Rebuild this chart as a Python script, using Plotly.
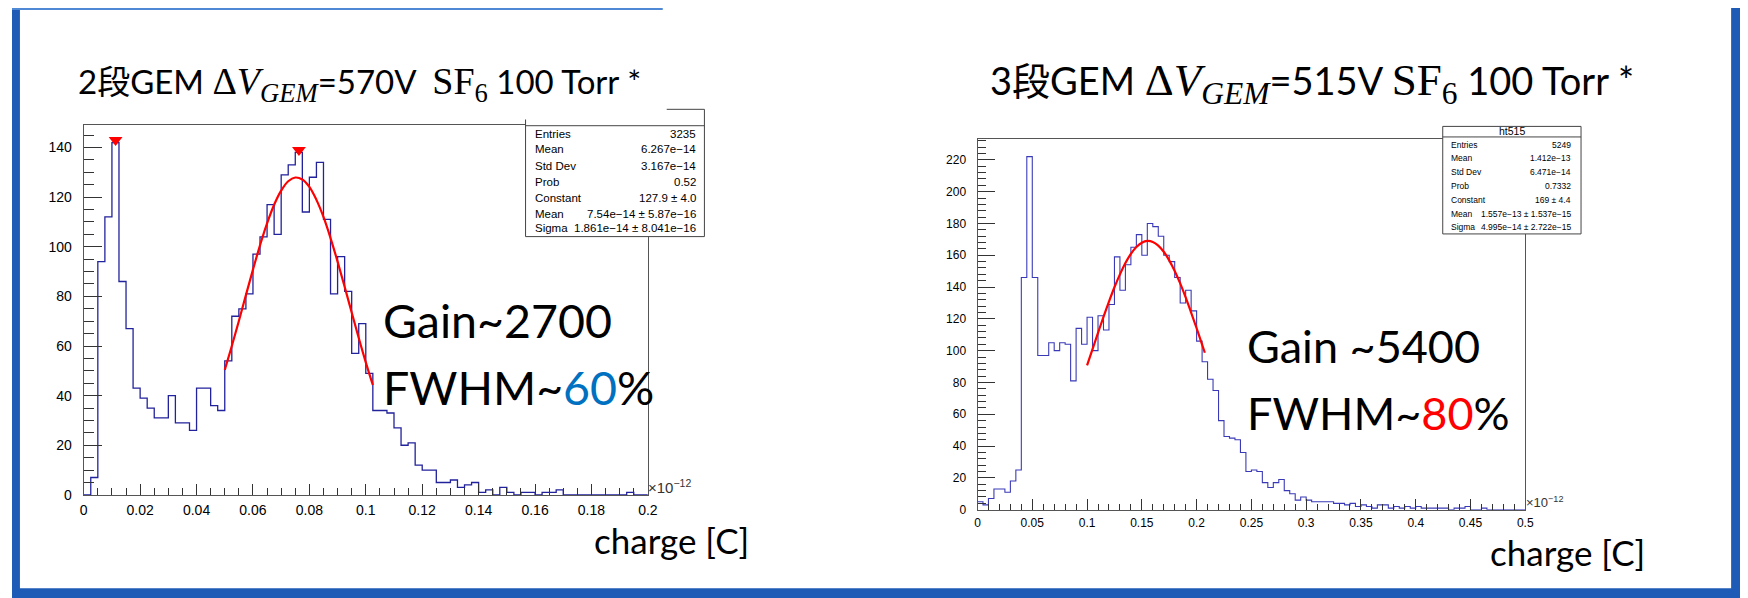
import numpy as np
import plotly.graph_objects as go

W, H = 1748, 598

# ---------------- data ----------------
# Left: 2-stage GEM, 80 bins over [0, 0.2] (x1e-12 C)
left_range = [0.0, 0.2]
left_counts = [0, 7, 94, 112, 142, 86, 67, 43, 39, 35,
               31, 31, 40, 29, 29, 26, 43, 43, 36, 34,
               54, 72, 75, 81, 97, 104, 117, 105, 129, 133,
               138, 114, 128, 134, 111, 81, 96, 82, 57, 69,
               49, 34, 34, 33, 27, 20, 21, 12, 10, 10,
               5, 5, 6, 3, 4, 5, 1, 2, 0, 3,
               1, 0, 1, 1, 0, 1, 1, 2, 0, 0,
               0, 0, 0, 0, 0, 0, 0, 1, 0, 0]
left_fit_x = [0.05, 0.0525, 0.055, 0.0575, 0.06, 0.0625, 0.065, 0.0675, 0.07, 0.0725,
              0.075, 0.0775, 0.08, 0.0825, 0.085, 0.0875, 0.09, 0.0925, 0.095, 0.0975,
              0.1, 0.1025]
left_fit_y = [50.4, 60.0, 70.1, 80.5, 90.8, 100.6, 109.4, 116.9, 122.6, 126.4,
              127.9, 127.1, 124.1, 118.9, 112.0, 103.5, 94.0, 83.9, 73.5, 63.2,
              53.4, 44.3]
left_peak_x = [0.0113, 0.0763]
left_peak_y = [143, 139]
left_xtick_vals = [0, 0.02, 0.04, 0.06, 0.08, 0.1, 0.12, 0.14, 0.16, 0.18, 0.2]
left_xtick_text = ["0", "0.02", "0.04", "0.06", "0.08", "0.1", "0.12", "0.14", "0.16", "0.18", "0.2"]
left_ytick_vals = [0, 20, 40, 60, 80, 100, 120, 140]
left_stats_labels = ["Entries", "Mean", "Std Dev", "Prob", "Constant", "Mean", "Sigma"]
left_stats_values = ["3235", "6.267e\u221214", "3.167e\u221214", "0.52", "127.9 \u00b1 4.0",
                     "7.54e\u221214 \u00b1 5.87e\u221216", "1.861e\u221214 \u00b1 8.041e\u221216"]

# Right: 3-stage GEM, 100 bins over [0, 0.5] (x1e-12 C)
right_range = [0.0, 0.5]
right_counts = [5, 3, 7, 13, 13, 11, 18, 25, 146, 222,
                146, 97, 97, 105, 100, 105, 104, 81, 114, 104,
                121, 100, 122, 113, 129, 159, 138, 154, 165, 173,
                160, 180, 178, 172, 160, 156, 146, 130, 138, 125,
                106, 93, 82, 75, 56, 46, 45, 44, 36, 24,
                25, 24, 17, 14, 17, 19, 12, 10, 6, 8,
                6, 5, 5, 5, 5, 4, 4, 3, 4, 2,
                3, 2, 1, 3, 3, 1, 2, 1, 2, 1,
                2, 1, 1, 1, 1, 1, 0, 1, 1, 2,
                0, 0, 1, 0, 0, 0, 0, 0, 0, 0]
right_fit_x = [0.1, 0.105, 0.11, 0.115, 0.12, 0.125, 0.13, 0.135, 0.14, 0.145,
               0.15, 0.155, 0.16, 0.165, 0.17, 0.175, 0.18, 0.185, 0.19, 0.195,
               0.2, 0.205, 0.2075]
right_fit_y = [90.8, 101.0, 111.2, 121.3, 130.9, 139.9, 148.0, 155.1, 160.9, 165.2,
               167.9, 169.0, 168.4, 166.1, 162.2, 156.8, 150.1, 142.3, 133.5, 124.0,
               114.1, 103.8, 98.7]
right_xtick_vals = [0, 0.05, 0.1, 0.15, 0.2, 0.25, 0.3, 0.35, 0.4, 0.45, 0.5]
right_xtick_text = ["0", "0.05", "0.1", "0.15", "0.2", "0.25", "0.3", "0.35", "0.4", "0.45", "0.5"]
right_ytick_vals = [0, 20, 40, 60, 80, 100, 120, 140, 160, 180, 200, 220]
right_stats_labels = ["Entries", "Mean", "Std Dev", "Prob", "Constant", "Mean", "Sigma"]
right_stats_values = ["5249", "1.412e\u221213", "6.471e\u221214", "0.7332", "169 \u00b1 4.4",
                      "1.557e\u221213 \u00b1 1.537e\u221215", "4.995e\u221214 \u00b1 2.722e\u221215"]

# ---------------- helpers ----------------
HIST_COLOR = "#22229c"
TXT_FONT = "Lato, 'Noto Sans CJK JP', sans-serif"
ROOT_FONT = "'Liberation Sans', Arial, sans-serif"


def step_xy(counts, rng):
    n = len(counts)
    edges = np.linspace(rng[0], rng[1], n + 1)
    xs = list(edges[:-1]) + [edges[-1]]
    ys = list(counts) + [counts[-1]]
    return xs, ys


def pxx(x):
    return x / W


def pxy(y):
    return 1 - y / H


fig = go.Figure()

lx, ly = step_xy(left_counts, left_range)
fig.add_trace(go.Scatter(x=lx, y=ly, mode="lines", line=dict(shape="hv", color=HIST_COLOR, width=1.3),
                         xaxis="x", yaxis="y", showlegend=False, hoverinfo="skip"))
fig.add_trace(go.Scatter(x=left_fit_x, y=left_fit_y, mode="lines",
                         line=dict(shape="spline", color="#ff0000", width=2.2),
                         xaxis="x", yaxis="y", showlegend=False))
fig.add_trace(go.Scatter(x=left_peak_x, y=left_peak_y, mode="markers",
                         marker=dict(symbol="triangle-down", color="#ff0000", size=12),
                         xaxis="x", yaxis="y", showlegend=False, cliponaxis=False))

rx, ry = step_xy(right_counts, right_range)
fig.add_trace(go.Scatter(x=rx, y=ry, mode="lines", line=dict(shape="hv", color="#3a3ab8", width=1.1),
                         xaxis="x2", yaxis="y2", showlegend=False, hoverinfo="skip"))
fig.add_trace(go.Scatter(x=right_fit_x, y=right_fit_y, mode="lines",
                         line=dict(shape="spline", color="#ff0000", width=2.2),
                         xaxis="x2", yaxis="y2", showlegend=False))


def axis_common(size):
    return dict(showline=True, linecolor="#555555", linewidth=1, mirror=True,
                ticks="inside", tickcolor="#333333", showgrid=False, zeroline=False,
                tickfont=dict(family=ROOT_FONT, size=size, color="black"))


fig.update_layout(
    xaxis=dict(domain=[pxx(72.3), pxx(641)], range=left_range, anchor="y",
               tickvals=left_xtick_vals, ticktext=left_xtick_text, ticklen=11, ticklabelstandoff=2,
               minor=dict(dtick=0.005, tick0=0, ticklen=7, ticks="inside", tickcolor="#333333"),
               **axis_common(14)),
    yaxis=dict(domain=[pxy(493.5), pxy(118.5)], range=[0, 149.1], anchor="x",
               tickvals=left_ytick_vals, ticklen=18, ticklabelstandoff=8,
               minor=dict(dtick=5, tick0=0, ticklen=10, ticks="inside", tickcolor="#333333"),
               **axis_common(14)),
    xaxis2=dict(domain=[pxx(973.3), pxx(1525.5)], range=right_range, anchor="y2",
                tickvals=right_xtick_vals, ticktext=right_xtick_text, ticklen=11, ticklabelstandoff=2,
                minor=dict(dtick=0.01, tick0=0, ticklen=6, ticks="inside", tickcolor="#333333"),
                **axis_common(12)),
    yaxis2=dict(domain=[pxy(508.5), pxy(132.8)], range=[0, 233.1], anchor="x2",
                tickvals=right_ytick_vals, ticklen=17, ticklabelstandoff=8,
                minor=dict(dtick=4, tick0=0, ticklen=8, ticks="inside", tickcolor="#333333"),
                **axis_common(12)),
)

shapes = []
annos = []


def ann(text, x, y, size, family=TXT_FONT, color="black", xanchor="left", yanchor="middle"):
    annos.append(dict(text=text, x=pxx(x), y=pxy(y), xref="paper", yref="paper", showarrow=False,
                      xanchor=xanchor, yanchor=yanchor, align=xanchor if xanchor != "center" else "center",
                      font=dict(size=size, family=family, color=color)))


def rect(x0, y0, x1, y1, fill="white", line="#444444", lw=1):
    shapes.append(dict(type="rect", xref="paper", yref="paper", x0=pxx(x0), x1=pxx(x1),
                       y0=pxy(y1), y1=pxy(y0), fillcolor=fill, line=dict(color=line, width=lw),
                       layer="above"))


def hline(x0, x1, y, color="#444444", lw=1):
    shapes.append(dict(type="line", xref="paper", yref="paper", x0=pxx(x0), x1=pxx(x1),
                       y0=pxy(y), y1=pxy(y), line=dict(color=color, width=lw), layer="above"))


def vline(x, y0, y1, color="#444444", lw=1):
    shapes.append(dict(type="line", xref="paper", yref="paper", x0=pxx(x), x1=pxx(x),
                       y0=pxy(y0), y1=pxy(y1), line=dict(color=color, width=lw), layer="above"))


# ---- left stats box ----
rect(517.7, 113, 698, 231.7, line="rgba(0,0,0,0)")
vline(517.7, 113, 231.7)
vline(698, 102.7, 231.7)
hline(517.7, 698, 231.7)
hline(517.7, 698, 119.3)
hline(660, 698, 102.7)
row_y_left = [127.3, 143.3, 160, 176, 192.3, 208.3, 223.3]
for lab, val, yy in zip(left_stats_labels, left_stats_values, row_y_left):
    ann(lab, 525.7, yy, 11.5, family=ROOT_FONT)
    ann(val, 692, yy, 11.5, family=ROOT_FONT, xanchor="right")

# ---- right stats box ----
rect(1442.3, 120, 1581.7, 229)
hline(1442.3, 1581.7, 130.7)
ann("ht515", 1511.7, 124.5, 10.5, family=ROOT_FONT, xanchor="center")
row_y_right = [139, 152.3, 166.7, 180, 194.3, 208.3, 221.7]
for lab, val, yy in zip(right_stats_labels, right_stats_values, row_y_right):
    ann(lab, 1449, yy, 8.5, family=ROOT_FONT)
    ann(val, 1573.5, yy, 8.5, family=ROOT_FONT, xanchor="right")

# ---- axis exponent labels ----
ann("\u00d710<sup>\u221212</sup>", 639, 485, 15, family=ROOT_FONT, color="#333333")
ann("\u00d710<sup>\u221212</sup>", 1524, 501, 13, family=ROOT_FONT, color="#333333")

# ---- slide titles ----
def title_html(prefix, volt, gap, math_size):
    ms = "font-family:Liberation Serif;font-size:%dpx" % math_size
    return ("%s段GEM <span style='%s'>\u0394<i>V</i><sub><i>GEM</i></sub></span>=%s%s"
            "<span style='%s'>SF<sub>6</sub></span> 100 Torr *") % (prefix, ms, volt, gap, ms)


ann(title_html("2", "570V", "&nbsp;&nbsp;", 38), 65, 77, 33)
ann(title_html("3", "515V", " ", 45), 984, 76, 38)

# ---- big labels ----
ann("Gain~2700", 372, 316, 46.5)
ann("FWHM~<span style='color:#0070C0;font-size:46.5px'>60</span>%", 372, 384, 46.5)
ann("Gain ~5400", 1243, 343, 45)
ann("FWHM~<span style='color:#FF0000;font-size:45px'>80</span>%", 1243, 410, 45)
ann("charge [C]", 585, 539, 35)
ann("charge [C]", 1488, 551, 35)

# ---- slide border ----
BORDER = "#1E5BB6"
shapes.append(dict(type="rect", xref="paper", yref="paper", x0=0, x1=pxx(8), y0=0, y1=1,
                   fillcolor=BORDER, line=dict(width=0), layer="above"))
shapes.append(dict(type="rect", xref="paper", yref="paper", x0=0, x1=pxx(1743), y0=0, y1=pxy(588),
                   fillcolor=BORDER, line=dict(width=0), layer="above"))
shapes.append(dict(type="rect", xref="paper", yref="paper", x0=pxx(1733), x1=pxx(1742), y0=0, y1=1,
                   fillcolor=BORDER, line=dict(width=0), layer="above"))
shapes.append(dict(type="rect", xref="paper", yref="paper", x0=0, x1=pxx(656), y0=pxy(2), y1=1,
                   fillcolor="#4F88D4", line=dict(width=0), layer="above"))

fig.update_layout(width=W, height=H, margin=dict(l=0, r=0, t=0, b=0),
                  paper_bgcolor="white", plot_bgcolor="white",
                  shapes=shapes, annotations=annos, showlegend=False)

fig.write_html("out.html")
